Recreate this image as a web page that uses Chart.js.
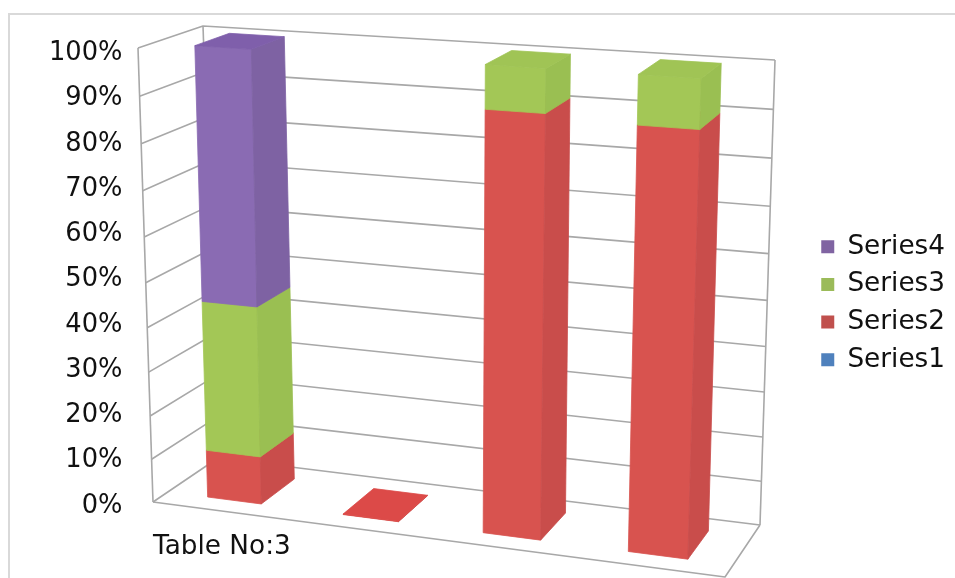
<!DOCTYPE html>
<html lang="en">
<head>
  <meta charset="UTF-8" />
  <title>Table No:3</title>
  <script src="https://cdn.jsdelivr.net/npm/chart.js"></script>
  <style>
    html, body { margin: 0; background: #fff; overflow: hidden; }
    #wrap { position: relative; width: 955px; height: 578px; overflow: hidden; }
    #frame { position: absolute; left: 8px; top: 13px; width: 1000px; height: 700px; border: 2px solid #d9d9d9; }
    canvas { position: absolute; left: 0; top: 0; }
  </style>
</head>
<body>
  <div id="wrap">
    <div id="frame"></div>
    <canvas id="chart" width="955" height="578"></canvas>
  </div>

  <script>
    const categories = ['Table No:3', '', '', ''];
    const series1 = [0, 0, 0, 0];
    const series2 = [11, 0.1, 91, 90];
    const series3 = [34, 0, 9, 10];
    const series4 = [55, 0, 0, 0];

    // front, side, top shades for the 3d faces
    const shades = {
      Series1: ['#4f81bd', '#4674aa', '#4f81bd'],
      Series2: ['#d8534f', '#c94d4b', '#dc4a48'],
      Series3: ['#a3c756', '#9abf52', '#a0c455'],
      Series4: ['#8a6bb3', '#7e62a3', '#7f5fab']
    };

    // box corners of the 3d plot on the page
    const frontBottomL = [153, 502], frontBottomR = [725, 577];
    const frontTopL = [138, 48], frontTopR = [741, 88];
    const backBottomL = [218, 458], backBottomR = [760, 525];
    const backTopL = [203, 26], backTopR = [775, 60];
    const barDepth = [0.23, 0.78];

    const lerp = (a, b, t) => [a[0] + (b[0] - a[0]) * t, a[1] + (b[1] - a[1]) * t];
    const warp = (t, c) => t / (c + (1 - c) * t);

    // u across, d into the page, v up, all 0..1
    function project(u, d, v) {
      const uu = warp(u, 1.0725), vv = warp(v, 1.07);
      const front = lerp(lerp(frontBottomL, frontBottomR, uu), lerp(frontTopL, frontTopR, uu), vv);
      const back = lerp(lerp(backBottomL, backBottomR, uu), lerp(backTopL, backTopR, uu), vv);
      return lerp(front, back, d);
    }

    function face(ctx, pts, color) {
      ctx.beginPath();
      pts.forEach((p, i) => i ? ctx.lineTo(p[0], p[1]) : ctx.moveTo(p[0], p[1]));
      ctx.closePath();
      ctx.fillStyle = color;
      ctx.strokeStyle = color;
      ctx.lineWidth = 0.8;
      ctx.fill();
      ctx.stroke();
    }

    function polyline(ctx, pts) {
      ctx.beginPath();
      pts.forEach((p, i) => i ? ctx.lineTo(p[0], p[1]) : ctx.moveTo(p[0], p[1]));
      ctx.stroke();
    }

    const box3d = {
      id: 'box3d',
      afterLayout(chart) {
        // legend sits a little above the middle of the plot
        chart.legend.top -= 5;
        chart.legend.bottom -= 5;
      },
      beforeDatasetsDraw(chart) {
        const ctx = chart.ctx;
        const area = chart.chartArea;
        const yScale = chart.scales.y;
        const toU = px => (px - area.left) / area.width;
        const toV = py => (area.bottom - py) / area.height;

        ctx.save();
        ctx.strokeStyle = '#a8a8a8';
        ctx.lineWidth = 1.6;
        ctx.lineJoin = 'round';
        yScale.ticks.forEach(t => {
          const v = toV(yScale.getPixelForValue(t.value));
          polyline(ctx, [project(0, 0, v), project(0, 1, v), project(1, 1, v)]);
        });
        polyline(ctx, [project(0, 0, 0), project(0, 0, 1)]);
        polyline(ctx, [project(0, 1, 0), project(0, 1, 1)]);
        polyline(ctx, [project(1, 1, 0), project(1, 1, 1)]);
        polyline(ctx, [project(0, 0, 0), project(1, 0, 0), project(1, 1, 0)]);

        const [d0, d1] = barDepth;
        categories.forEach((c, idx) => {
          chart.data.datasets.forEach((ds, i) => {
            if (!(ds.data[idx] > 0)) return;
            const bar = chart.getDatasetMeta(i).data[idx];
            const u0 = toU(bar.x - bar.width / 2), u1 = toU(bar.x + bar.width / 2);
            const v0 = toV(bar.base), v1 = toV(bar.y);
            const [fFront, fSide, fTop] = shades[ds.label];
            face(ctx, [project(u0, d0, v0), project(u1, d0, v0), project(u1, d0, v1), project(u0, d0, v1)], fFront);
            face(ctx, [project(u1, d0, v0), project(u1, d1, v0), project(u1, d1, v1), project(u1, d0, v1)], fSide);
            face(ctx, [project(u0, d0, v1), project(u1, d0, v1), project(u1, d1, v1), project(u0, d1, v1)], fTop);
          });
        });
        ctx.restore();
        return false; // the faces above replace the flat bars
      }
    };

    const fontFamily = "'DejaVu Sans', sans-serif";

    new Chart(document.getElementById('chart').getContext('2d'), {
      type: 'bar',
      data: {
        labels: categories,
        datasets: [
          { label: 'Series1', data: series1, backgroundColor: '#4f81bd' },
          { label: 'Series2', data: series2, backgroundColor: '#c0504d' },
          { label: 'Series3', data: series3, backgroundColor: '#9bbb59' },
          { label: 'Series4', data: series4, backgroundColor: '#8064a2' }
        ]
      },
      options: {
        responsive: false,
        animation: false,
        categoryPercentage: 1,
        barPercentage: 0.4,
        layout: { padding: { left: 45, top: 53.5, bottom: 15, right: 0 } },
        plugins: {
          tooltip: { enabled: false },
          legend: {
            position: 'right',
            reverse: true,
            labels: {
              boxWidth: 13,
              boxHeight: 13,
              padding: 11.4,
              color: '#111',
              font: { family: fontFamily, size: 26.3 }
            }
          }
        },
        scales: {
          x: {
            stacked: true,
            grid: { display: false, tickLength: 25.5 },
            border: { display: false },
            ticks: {
              autoSkip: false,
              maxRotation: 0,
              padding: 0,
              labelOffset: 3,
              color: '#111',
              font: { family: fontFamily, size: 26.3 }
            }
          },
          y: {
            stacked: true,
            min: 0,
            max: 100,
            grid: { display: false },
            border: { display: false },
            ticks: {
              stepSize: 10,
              padding: 4,
              color: '#111',
              font: { family: fontFamily, size: 25.7 },
              callback: v => v + '%'
            }
          }
        }
      },
      plugins: [box3d]
    });
  </script>
</body>
</html>
